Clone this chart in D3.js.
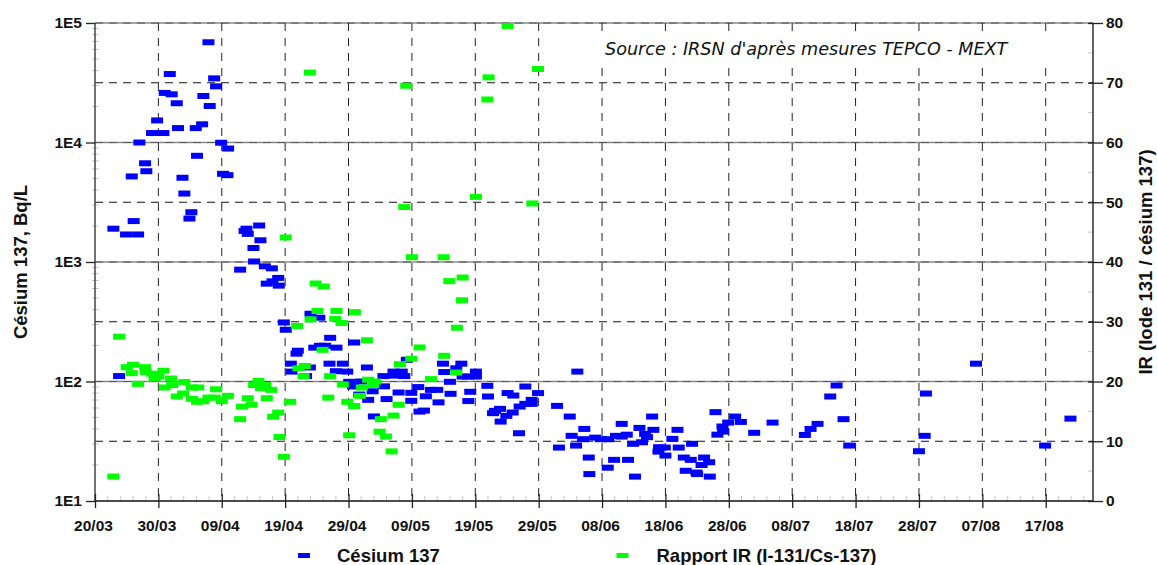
<!DOCTYPE html>
<html><head><meta charset="utf-8">
<script src="https://cdn.jsdelivr.net/npm/d3@7"></script>
<style>body{margin:0;background:#fff}svg{display:block}</style>
</head><body>
<svg id="c" width="1157" height="565"></svg>
<script>
// ---- Data (days since 20/03/2011) ----
const cesiumJour = [2.9,3.8,4.9,6.8,6.1,5.8,7.0,7.9,8.1,9.0,9.8,10.8,11.0,11.8,12.1,12.9,13.1,13.8,14.1,15.2,14.9,15.9,16.1,16.9,17.1,17.9,18.1,18.8,19.1,19.9,20.2,21.0,20.9,
22.9,23.6,23.9,24.1,25.0,25.1,25.9,26.1,26.8,27.9,28.9,27.1,28.0,29.0,29.8,30.1,30.9,31.0,31.8,32.0,33.3,33.9,34.0,35.4,34.6,35.5,36.3,38.1,37.0,37.1,38.0,39.1,39.8,40.1,40.7,40.9,42.0,42.9,41.7,43.1,43.8,44.0,45.6,46.0,45.5,47.1,47.3,47.9,48.4,48.8,49.2,49.9,49.9,51.0,51.2,51.9,52.2,53.0,54.0,54.2,54.9,55.1,56.0,56.1,57.0,57.8,58.0,58.9,60.1,60.1,59.2,58.9,61.9,62.0,62.8,63.1,63.9,64.0,64.9,65.1,66.0,65.9,67.0,67.9,68.9,68.9,67.9,69.9,66.9,72.9,74.9,73.2,75.2,76.1,77.2,77.0,75.9,77.9,78.0,78.9,79.8,81.0,80.9,81.9,82.2,83.1,83.9,83.1,84.1,85.2,84.9,85.9,86.3,86.8,87.1,88.1,87.9,89.0,89.9,88.9,90.0,91.1,91.9,92.1,92.9,94.0,94.2,93.2,94.9,95.0,96.1,95.7,96.9,97.0,97.9,98.2,99.1,99.0,99.9,101.0,101.9,104.0,106.9,112.0,112.9,114.0,116.0,117.0,118.1,119.0,130.0,131.1,130.9,139.0,149.9,153.9];
const cesiumBqL = [1900,111,1700,1700,2200,5200,10000,6700,5750,12000,15300,12000,26000,37400,25300,21300,13200,5070,3740,2610,2310,13200,7740,14200,24500,69000,20200,34400,29500,9950,5470,8900,5330,
863,1820,1900,1720,1310,1010,2020,1520,920,885,736,659,689,634,312,271,141,121,171,181,111,131,369,342,192,199,199,192,141,232,122,141,121,99.4,90.8,212,100,131,77.8,70.2,82.8,51.0,91.1,71.3,111,121,112,80.9,121,111,152,80.4,68.9,89.8,56.0,57.1,75.2,85.1,85.1,66.9,141,120,99.4,78.9,129,141,110,110,110,121,82.0,68.6,92.0,74.9,54.3,56.8,59.0,46.2,51.6,80.0,76.3,55.0,61.7,65.0,65.0,70.2,90.8,80.0,36.9,62.5,50.9,28.0,35.1,121,40.1,32.9,29.1,23.1,16.8,33.9,32.9,32.9,19.0,22.1,35.1,34.6,35.9,44.2,22.1,16.0,30.1,40.9,31.0,36.4,34.2,39.4,50.9,28.2,28.0,25.9,24.0,33.1,39.4,28.0,23.1,22.1,30.1,17.9,17.3,16.8,23.1,20.0,21.1,16.0,55.4,35.9,38.1,42.0,45.3,50.9,45.9,37.2,45.3,35.7,40.1,44.2,74.9,92.6,48.4,29.1,26.1,79.3,35.1,141,29.1,48.9];
const irJour = [2.9,3.8,5.0,6.0,5.8,6.8,7.9,8.0,9.0,9.4,10.0,10.8,11.0,12.0,12.2,12.9,13.9,14.1,15.3,16.3,15.3,16.1,17.1,17.9,18.9,19.1,20.0,21.0,22.9,23.2,24.1,24.7,25.1,25.8,26.2,26.9,27.8,27.1,28.1,28.9,29.1,29.8,30.8,30.1,31.9,32.1,33.1,32.9,34.0,35.1,34.8,36.1,35.9,37.1,36.8,37.9,38.1,38.9,39.1,39.8,40.1,40.9,41.0,41.8,42.1,42.9,43.1,43.9,44.2,44.9,45.1,45.9,46.8,47.1,47.9,48.1,33.9,48.8,49.1,49.9,50.0,51.2,53.0,55.0,55.1,55.9,57.0,57.1,57.9,58.0,60.1,61.9,62.1,65.1,69.0,69.9];
const irValeur = [4.1,27.5,22.4,22.8,21.4,19.6,22.4,21.6,21.3,20.5,20.8,21.8,19.0,20.5,19.4,17.5,18.0,19.9,19.0,19.0,17.1,16.6,16.7,17.3,17.3,18.7,16.7,17.6,13.7,15.8,17.2,16.1,19.4,20.1,18.9,19.4,18.6,17.2,14.1,14.8,10.7,7.4,16.6,44.1,29.3,22.2,22.6,20.9,30.4,31.8,36.4,35.9,25.3,20.9,17.3,30.5,31.8,29.8,19.5,16.6,11.0,15.9,31.6,17.6,19.0,26.9,20.3,19.4,20.0,11.6,13.7,10.8,8.3,14.3,16.1,22.9,71.7,49.2,69.5,23.8,40.8,25.7,20.4,40.8,24.3,36.8,21.5,29.0,33.6,37.4,50.9,67.2,70.9,79.5,49.8,72.3];
const dateLabels = ["20/03","30/03","09/04","19/04","29/04","09/05","19/05","29/05","08/06","18/06","28/06","08/07","18/07","28/07","07/08","17/08"];
const logTicks = [10,100,1000,10000,100000];
const irTicks = [0,10,20,30,40,50,60,70,80];
const legendLabels = ["Césium 137","Rapport IR (I-131/Cs-137)"];
const sourceText = "Source : IRSN d'après mesures TEPCO - MEXT";
const leftTitle = "Césium 137, Bq/L";
const rightTitle = "IR (Iode 131 / césium 137)";

// ---- Layout ----
const L = 95, R = 1093, T = 23, B = 501;
const DAY = 864e5, t0 = Date.UTC(2011, 2, 20);
const toDate = d => new Date(t0 + d * DAY);
const parseLbl = s => { const [dd, mm] = s.split("/").map(Number); return new Date(Date.UTC(2011, mm - 1, dd)); };
const FONT = "'Liberation Sans', Arial, sans-serif";
const BLUE = "#0000ff", GREEN = "#00ff00";

const x = d3.scaleUtc().domain([toDate(0), toDate(157.46)]).range([L, R]);
const yL = d3.scaleLog().domain([10, 1e5]).range([B, T]);
const yR = d3.scaleLinear().domain([0, 80]).range([B, T]);

const svg = d3.select("#c");
svg.append("rect").attr("width", 1157).attr("height", 565).attr("fill", "#fff");

const g = svg.append("g");

// minor ticks (light gray)
const minorLog = [];
for (let e = 1; e < 5; e++) for (let k = 2; k <= 9; k++) minorLog.push(k * Math.pow(10, e));
g.selectAll(".mnl").data(minorLog).join("line")
  .attr("x1", L - 3).attr("x2", L + 4)
  .attr("y1", d => yL(d)).attr("y2", d => yL(d))
  .attr("stroke", "#c8c8c8").attr("stroke-width", 1);
const minorDays = d3.range(2, 157, 2).filter(d => d % 10 !== 0);
g.selectAll(".mnx").data(minorDays).join("line")
  .attr("x1", d => x(toDate(d))).attr("x2", d => x(toDate(d)))
  .attr("y1", B - 5).attr("y2", B)
  .attr("stroke", "#c8c8c8").attr("stroke-width", 1);
g.selectAll(".mnr").data([5,15,25,35,45,55,65,75]).join("line")
  .attr("x1", R - 5).attr("x2", R)
  .attr("y1", d => yR(d)).attr("y2", d => yR(d))
  .attr("stroke", "#c8c8c8").attr("stroke-width", 1);

// horizontal grid: solid gray at decades, dashed at IR tens
g.selectAll(".hg").data([100, 1000, 10000, 100000]).join("line")
  .attr("x1", L).attr("x2", R).attr("y1", d => yL(d)).attr("y2", d => yL(d))
  .attr("stroke", "#8a8a8a").attr("stroke-width", 1.3);
g.selectAll(".hd").data(irTicks.filter(v => v > 0)).join("line")
  .attr("x1", L).attr("x2", R).attr("y1", d => yR(d)).attr("y2", d => yR(d))
  .attr("stroke", d => d % 20 === 0 ? "#555" : "#111")
  .attr("stroke-width", 1).attr("stroke-dasharray", "8,6");

// vertical dashed grid
const labelDates = dateLabels.map(parseLbl);
g.selectAll(".vg").data(labelDates.slice(1)).join("line")
  .attr("x1", d => x(d)).attr("x2", d => x(d)).attr("y1", T).attr("y2", B)
  .attr("stroke", "#222").attr("stroke-width", 1).attr("stroke-dasharray", "8,7");

// source box
svg.append("rect").attr("x", 598).attr("y", 35).attr("width", 462).attr("height", 27).attr("fill", "#fff");
svg.append("text").attr("x", 605).attr("y", 55)
  .attr("font-family", "'DejaVu Sans', Verdana, sans-serif").attr("font-style", "italic")
  .attr("font-size", 17.6).attr("fill", "#111").text(sourceText);

// axes frame
svg.append("line").attr("x1", L).attr("x2", L).attr("y1", T).attr("y2", B).attr("stroke", "#444").attr("stroke-width", 1.5);
svg.append("line").attr("x1", R).attr("x2", R).attr("y1", T).attr("y2", B).attr("stroke", "#111").attr("stroke-width", 1.3);
svg.append("line").attr("x1", L).attr("x2", R).attr("y1", B).attr("y2", B).attr("stroke", "#111").attr("stroke-width", 1.5);

// left axis
const axL = svg.append("g").attr("transform", `translate(${L},0)`)
  .call(d3.axisLeft(yL).tickValues(logTicks).tickSize(9).tickPadding(4)
    .tickFormat(d => "1E" + Math.round(Math.log10(d))));
axL.select(".domain").remove();
axL.selectAll("line").attr("stroke", "#222").attr("stroke-width", 1.3);
axL.selectAll("text").attr("font-family", FONT).attr("font-weight", "bold").attr("font-size", 15.5).attr("fill", "#111");

// right axis
const axR = svg.append("g").attr("transform", `translate(${R},0)`)
  .call(d3.axisRight(yR).tickValues(irTicks).tickSize(10).tickPadding(3));
axR.select(".domain").remove();
axR.selectAll("line").attr("x1", -5).attr("stroke", "#222").attr("stroke-width", 1.3);
axR.selectAll("text").attr("font-family", FONT).attr("font-weight", "bold").attr("font-size", 15.5).attr("fill", "#111");

// bottom axis
const axB = svg.append("g").attr("transform", `translate(0,${B})`)
  .call(d3.axisBottom(x).tickValues(labelDates).tickSize(7).tickFormat((d, i) => dateLabels[i]));
axB.select(".domain").remove();
axB.selectAll("line").attr("y1", -7).attr("stroke", "#222").attr("stroke-width", 1.3);
axB.selectAll("text").attr("y", 30).attr("dy", 0).attr("dx", -2)
  .attr("font-family", FONT).attr("font-weight", "bold").attr("font-size", 15.5).attr("fill", "#111");

// titles
svg.append("text").attr("transform", `translate(27,${(T + B) / 2}) rotate(-90)`)
  .attr("text-anchor", "middle").attr("font-family", FONT).attr("font-weight", "bold")
  .attr("font-size", 18.5).attr("fill", "#111").text(leftTitle);
svg.append("text").attr("transform", `translate(1152,${(T + B) / 2}) rotate(-90)`)
  .attr("text-anchor", "middle").attr("font-family", FONT).attr("font-weight", "bold")
  .attr("font-size", 18.5).attr("fill", "#111").text(rightTitle);

// markers
const MW = 12, MH = 6;
const plot = svg.append("g");
const cs = cesiumJour.map((d, i) => ({ d, v: cesiumBqL[i] }));
plot.selectAll(".cs").data(cs).join("rect")
  .attr("x", p => x(toDate(p.d)) - MW / 2).attr("y", p => yL(p.v) - MH / 2)
  .attr("width", MW).attr("height", MH).attr("fill", BLUE);
const ir = irJour.map((d, i) => ({ d, v: irValeur[i] }));
plot.selectAll(".ir").data(ir).join("rect")
  .attr("x", p => x(toDate(p.d)) - MW / 2).attr("y", p => yR(p.v) - MH / 2)
  .attr("width", MW).attr("height", MH).attr("fill", GREEN);

// legend
const leg = [{ c: BLUE, t: legendLabels[0], mx: 304, tx: 337 }, { c: GREEN, t: legendLabels[1], mx: 622.5, tx: 656.5 }];
const lg = svg.append("g");
lg.selectAll("rect").data(leg).join("rect")
  .attr("x", d => d.mx - 6).attr("y", 553).attr("width", 12).attr("height", 5).attr("fill", d => d.c);
lg.selectAll("text").data(leg).join("text")
  .attr("x", d => d.tx).attr("y", 562)
  .attr("font-family", FONT).attr("font-weight", "bold").attr("font-size", 18.5).attr("fill", "#111")
  .text(d => d.t);
</script>
</body></html>
